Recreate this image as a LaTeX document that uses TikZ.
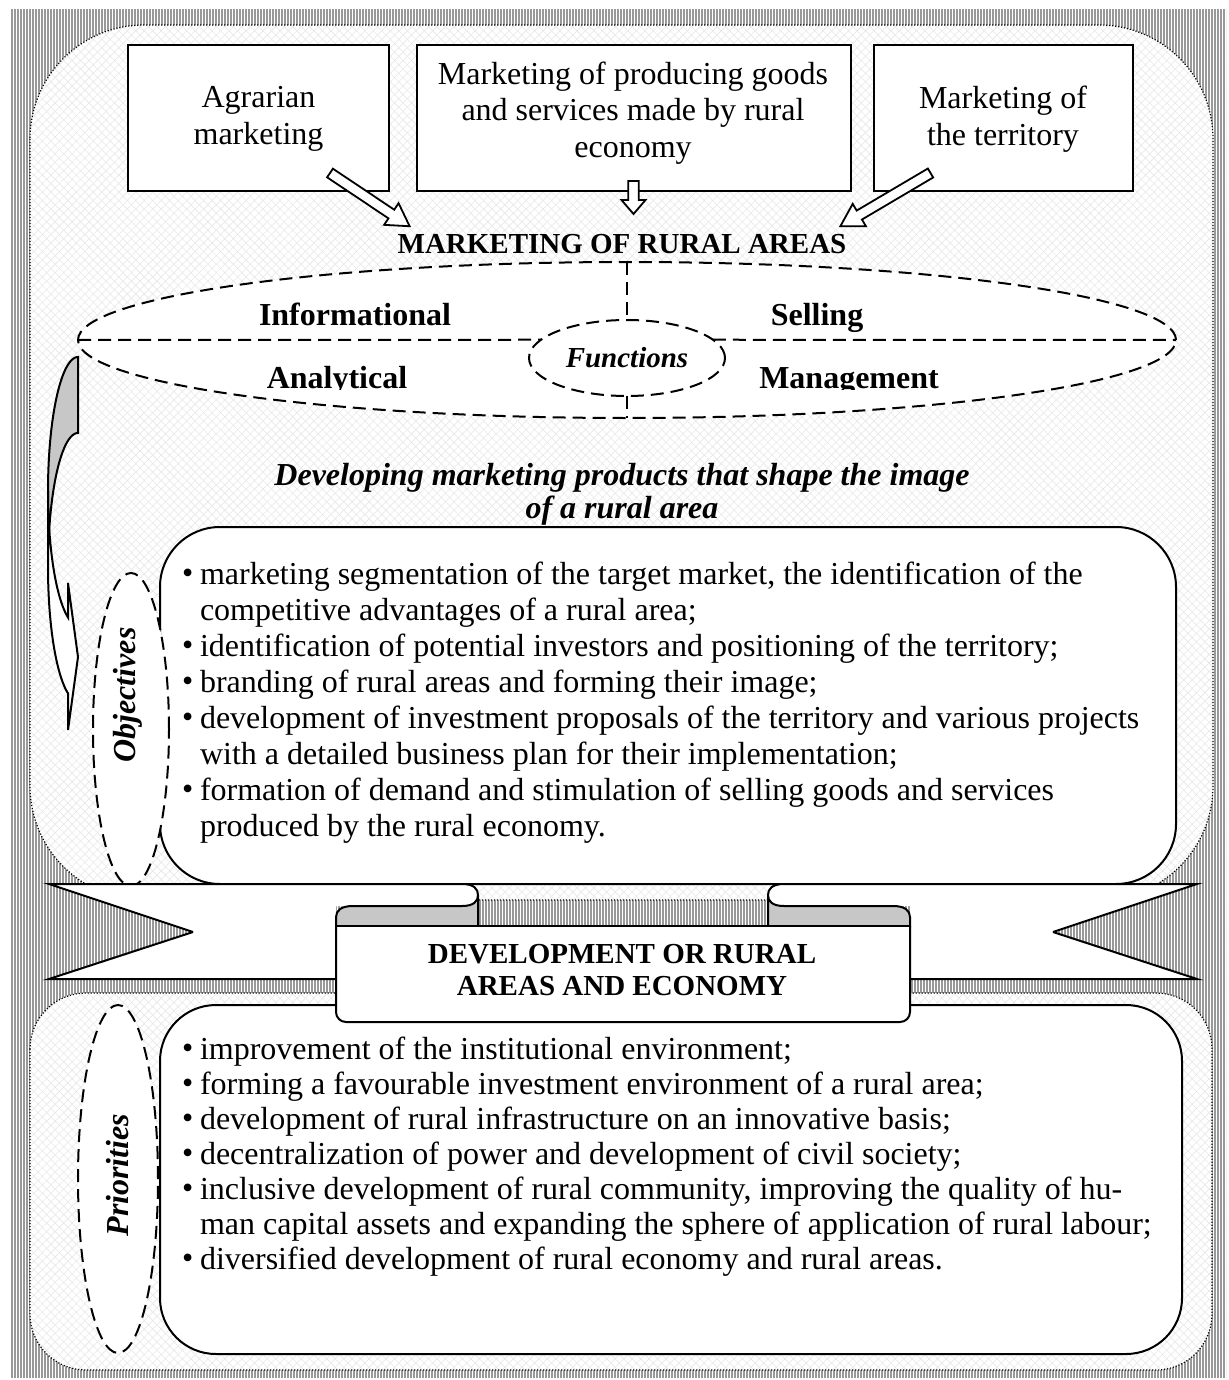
\documentclass[tikz,border=0pt]{standalone}
\usepackage{fontspec}
\setmainfont{Liberation Serif}
\usetikzlibrary{patterns.meta,shapes.geometric,calc}

\tikzset{
  every node/.style={inner sep=0pt, outer sep=0pt},
  stripes/.style={pattern={Lines[angle=90,distance=1.5pt,line width=0.7pt]}, pattern color=black!40},
  hatchA/.style={pattern={Lines[angle=45,distance=3pt,line width=0.3pt]}, pattern color=black!9},
  hatchB/.style={pattern={Lines[angle=-45,distance=3pt,line width=0.3pt]}, pattern color=black!9},
  dotline/.style={line width=0.6pt, dash pattern=on 0.6pt off 0.9pt},
  panel/.style={fill=white, postaction={hatchA}, postaction={hatchB}, postaction={draw, dotline}},
  srcbox/.style={draw, line width=1pt, fill=white},
  srctext/.style={align=center, font=\fontsize{16}{18.25}\selectfont},
  blockarrow/.style={draw, line width=0.9pt, fill=white, line join=miter},
  dashline/.style={line width=1pt, dash pattern=on 6.5pt off 3.5pt},
  fnlabel/.style={font=\fontsize{16}{18}\selectfont\bfseries},
  capsfont/.style={font=\fontsize{14.5}{16}\selectfont\bfseries},
  listbox/.style={draw, line width=1pt, fill=white},
  sidelabel/.style={rotate=90, font=\fontsize{16}{18}\selectfont\bfseries\itshape},
  foldgray/.style={fill=black!22, draw, line width=1pt},
  outline/.style={line width=1pt, line join=miter},
}

% hollow block arrow from #1 to #2: body half width #3, head half width #4, head length #5
\newcommand\hollowarrow[5]{%
  \coordinate (hb) at ($(#2)!#5!(#1)$);
  \draw[blockarrow] ($(#1)!#3!90:(#2)$) -- ($(hb)!#3!90:(#2)$) -- ($(hb)!#4!90:(#2)$)
    -- (#2) -- ($(hb)!#4!-90:(#2)$) -- ($(hb)!#3!-90:(#2)$) -- ($(#1)!#3!-90:(#2)$) -- cycle;
}
\newcommand\bul{\makebox[9pt][l]{\raisebox{0.3pt}{\textbullet}}}
\newcommand\ind{\hspace*{9pt}}

\begin{document}
\begin{tikzpicture}[x=0.5pt,y=-0.5pt]
\useasboundingbox (0,0) rectangle (1228,1380);

% striped ground
\fill[white] (0,0) rectangle (1228,1380);
\fill[stripes] (10,10) rectangle (1226,1378);

% two hatched panels with dotted borders
\path[panel, rounded corners=57pt] (30,25) rectangle (1213,900);
\path[panel, rounded corners=28pt] (30,993) rectangle (1212,1370);

% three source boxes
\node[srcbox, minimum width=130.5pt, minimum height=73pt] (b1) at (258.5,118) {};
\node[srcbox, minimum width=217pt, minimum height=73pt] (b2) at (633.5,118) {};
\node[srcbox, minimum width=129.5pt, minimum height=73pt] (b3) at (1003,118) {};
\node[srctext] (b1t) at (258.5,119) {Agrarian\\marketing};
\node[srctext] (b2t) at (633,113) {Marketing of producing goods\\and services made by rural\\economy};
\node[srctext] (b3t) at (1003,119) {Marketing of\\the territory};

\node[capsfont] (mra) at (622,244) {MARKETING OF RURAL AREAS};

\coordinate (a1s) at ($(b1.south east)+(-59,-18)$);
\coordinate (a1e) at ($(mra.north west)+(12,-8)$);
\coordinate (a2s) at ($(b2.south)+(0,-10)$);
\coordinate (a2e) at ($(b2.south)+(0,23)$);
\coordinate (a3s) at ($(b3.south west)+(57,-18)$);
\coordinate (a3e) at ($(mra.north east)+(-6,-8)$);
\hollowarrow{a1s}{a1e}{2.6pt}{6.5pt}{11pt}
\hollowarrow{a2s}{a2e}{2.6pt}{6pt}{7pt}
\hollowarrow{a3s}{a3e}{2.6pt}{6.5pt}{11pt}

% functions ellipse
\node[ellipse, draw, dashline, fill=white, minimum width=549pt, minimum height=78pt] (fe) at (627,340) {};
\node[ellipse, draw, dashline, fill=white, minimum width=98pt, minimum height=38pt,
      font=\fontsize{14.5}{16}\selectfont\bfseries\itshape] (fn) at (627,358) {Functions};
\draw[dashline] (fe.north) -- (fn.north);
\draw[dashline] (fn.south) -- (fe.south);
\draw[dashline] (fe.west) -- (fn.168);
\draw[dashline] (fn.12) -- (fe.east);
\node[fnlabel, anchor=base] (inf) at (355,325) {Informational};
\node[fnlabel, anchor=base] (sel) at (817,325) {Selling};
\begin{scope}
  \clip (0,0) rectangle (1228,389);
  \node[fnlabel, anchor=base] (ana) at (337,388) {Analytical};
  \node[fnlabel, anchor=base] (man) at (849,388) {Management};
\end{scope}

% curved arrow on the left: shaded back of the band, then the front band with its head
\draw[foldgray]
  plot[domain=270:180, samples=40, variable=\t] ({78+30*cos(\t)},{491+134*sin(\t)})
  -- plot[domain=180:270, samples=40, variable=\t] ({78+30*cos(\t)},{567+134*sin(\t)})
  -- cycle;
\draw[outline, fill=white]
  plot[domain=180:109.47, samples=40, variable=\t] ({78+30*cos(\t)},{491+134*sin(\t)})
  -- (68,583) -- (78,657) -- (68,730) -- (68,694.4)
  -- plot[domain=109.47:180, samples=40, variable=\t] ({78+30*cos(\t)},{567+134*sin(\t)})
  -- cycle;

\node[align=center, font=\fontsize{16}{16.5}\selectfont\bfseries\itshape] (dev) at (622,494)
  {Developing marketing products that shape the image\\of a rural area};

% objectives
\node[listbox, rounded corners=30pt, minimum width=508pt, minimum height=178.5pt] (objbox) at (668,705.5) {};
\node[anchor=base west, font=\fontsize{16}{18}\selectfont] (objtxt) at (182,584) {%
  \begin{tabular}[t]{@{}l@{}}
  \bul marketing segmentation of the target market, the identification of the\\
  \ind competitive advantages of a rural area;\\
  \bul identification of potential investors and positioning of the territory;\\
  \bul branding of rural areas and forming their image;\\
  \bul development of investment proposals of the territory and various projects\\
  \ind with a detailed business plan for their implementation;\\
  \bul formation of demand and stimulation of selling goods and services\\
  \ind produced by the rural economy.
  \end{tabular}};
\node[ellipse, draw, dashline, fill=white, minimum width=38pt, minimum height=156.5pt] (objell) at (131,729.5) {};
\node[sidelabel] (objlab) at (128,695) {Objectives};

% priorities
\node[listbox, rounded corners=28pt, minimum width=511pt, minimum height=174.5pt] (pribox) at (671,1179.5) {};
\node[anchor=base west, font=\fontsize{16}{17.5}\selectfont] (pritxt) at (182,1059) {%
  \begin{tabular}[t]{@{}l@{}}
  \bul improvement of the institutional environment;\\
  \bul forming a favourable investment environment of a rural area;\\
  \bul development of rural infrastructure on an innovative basis;\\
  \bul decentralization of power and development of civil society;\\
  \bul inclusive development of rural community, improving the quality of hu-\\
  \ind man capital assets and expanding the sphere of application of rural labour;\\
  \bul diversified development of rural economy and rural areas.
  \end{tabular}};
\node[ellipse, draw, dashline, fill=white, minimum width=40pt, minimum height=174pt] (priell) at (118,1179) {};
\node[sidelabel] (prilab) at (118,1175) {Priorities};

% ribbon banner: back band with tails
\fill[white] (49,884) -- (462,884) .. controls (474,884) and (478,889) .. (478,895)
  .. controls (478,901) and (474,906) .. (462,906) -- (336,906) -- (336,979) -- (49,979) -- (193,932) -- cycle;
\draw[outline] (193,932) -- (49,884) -- (462,884) .. controls (474,884) and (478,889) .. (478,895);
\draw[outline] (193,932) -- (49,979) -- (340,979);
\draw[foldgray] (336,917) .. controls (336,910) and (342,906) .. (353,906) -- (462,906)
  .. controls (474,906) and (478,901) .. (478,895) -- (478,926) -- (336,926) -- cycle;
\fill[white] (1197,884) -- (784,884) .. controls (772,884) and (768,889) .. (768,895)
  .. controls (768,901) and (772,906) .. (784,906) -- (910,906) -- (910,979) -- (1197,979) -- (1053,932) -- cycle;
\draw[outline] (1053,932) -- (1197,884) -- (784,884) .. controls (772,884) and (768,889) .. (768,895);
\draw[outline] (1053,932) -- (1197,979) -- (906,979);
\draw[foldgray] (910,917) .. controls (910,910) and (904,906) .. (893,906) -- (784,906)
  .. controls (772,906) and (768,901) .. (768,895) -- (768,926) -- (910,926) -- cycle;
% front panel
\draw[fill=white, line width=1pt, rounded corners=5pt] (336,926) -- (336,1022) -- (910,1022) -- (910,926);
\draw[line width=1pt] (336,926) -- (910,926);
\node[capsfont, align=center] (ban) at (622,970) {DEVELOPMENT OR RURAL\\AREAS AND ECONOMY};

\end{tikzpicture}
\end{document}
